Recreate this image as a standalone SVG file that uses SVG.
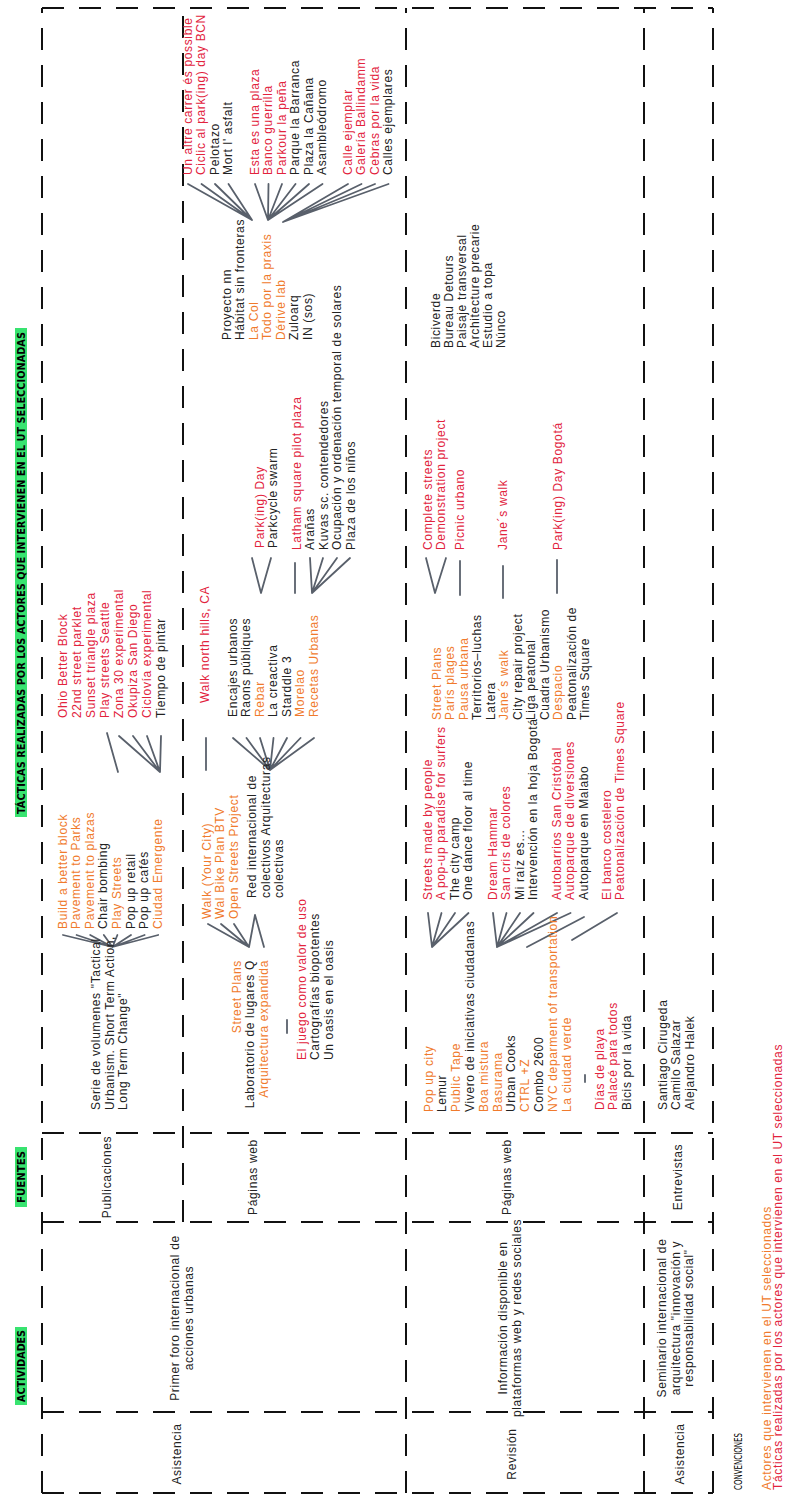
<svg xmlns="http://www.w3.org/2000/svg" width="785" height="1496" viewBox="0 0 785 1496">
<style>
.g{stroke:#111;stroke-width:2;stroke-dasharray:22 15;fill:none}
.t{font-family:"Liberation Sans",Arial,sans-serif;font-size:12px;letter-spacing:0.65px;fill:#222}
.o{fill:#F07A2C}
.r{fill:#E2233D}
.m{text-anchor:middle}
.e{text-anchor:end}
.c{stroke:#59606b;stroke-width:1.8;fill:none;stroke-linecap:round}
.h{fill:#38E370}
.ht{font-family:"DejaVu Sans Condensed","DejaVu Sans",sans-serif;font-weight:bold;font-size:11px;fill:#000;text-anchor:middle}
.cv{font-family:"DejaVu Sans Condensed","DejaVu Sans",sans-serif;font-size:11px;fill:#000}
</style>
<rect width="785" height="1496" fill="#fff"/>
<g transform="translate(0,1496) rotate(-90)">
<g id="grid">
<path class="g" d="M3 42H1488M3 713H1488M3 42V713M1488 42V713M274 183H1488M3 406H1488M3 644H1488M84 42V713M274 42V713M363 42V713"/>
</g>
<g id="headers">
<rect class="h" x="91" y="15" width="78" height="12"/>
<text class="ht" x="130" y="25" textLength="72" lengthAdjust="spacingAndGlyphs">ACTIVIDADES</text>
<rect class="h" x="289" y="15" width="60" height="12"/>
<text class="ht" x="319" y="25" textLength="52" lengthAdjust="spacingAndGlyphs">FUENTES</text>
<rect class="h" x="679" y="15" width="489" height="12"/>
<text class="ht" x="923" y="25" textLength="482" lengthAdjust="spacingAndGlyphs">TÁCTICAS REALIZADAS POR LOS ACTORES QUE INTERVIENEN EN EL UT SELECCIONADAS</text>
</g>
<g id="connectors">
<path class="c" d="M549 112.5L561 63M549 112.5L561 76.6M549 112.5L561 90.2M549 112.5L561 103.8M549 112.5L561 117.4M549 112.5L561 131M549 112.5L561 144.6M549 112.5L561 158.2"/>
<path class="c" d="M724 118L763 107"/>
<path class="c" d="M724 160L760 119M724 160L760 133M724 160L760 147M724 160L760 161"/>
<path class="c" d="M549 249L572 208M549 249L572 221M549 249L572 234M549 249L581 255M549 264L581 255"/>
<path class="c" d="M463 287H476"/>
<path class="c" d="M726 206H758"/>
<path class="c" d="M726 270L758 233M726 270L758 246.5M726 270L758 260M726 270L758 273.5M726 270L758 287M726 270L758 300.5M726 270L758 314"/>
<path class="c" d="M903 261L938 252M903 261L938 271"/>
<path class="c" d="M903 295H933"/>
<path class="c" d="M903 312L938 310M903 312L938 323M903 312L938 337M903 312L938 350"/>
<path class="c" d="M1276 252L1312 188M1276 252L1312 201.5M1276 252L1312 215M1276 252L1312 228.5"/>
<path class="c" d="M1276 268L1312 255M1276 268L1312 268.5M1276 268L1312 282M1276 268L1312 295.5M1276 268L1312 309M1276 268L1312 322.5"/>
<path class="c" d="M1274 283L1312 348M1274 283L1312 361.5M1274 283L1312 375M1274 283L1312 388.5"/>
<path class="c" d="M549 432L583 428M549 432L583 441.5M549 432L583 455M549 432L583 468.5"/>
<path class="c" d="M549 497L583 493M549 497L583 506.5M549 497L583 520M549 497L583 533.5M549 497L583 557M549 497L583 570.5"/>
<path class="c" d="M549 527L579 584"/>
<path class="c" d="M556 572L583 617"/>
<path class="c" d="M414 585H421"/>
<path class="c" d="M903 435L938 426M903 435L938 446"/>
<path class="c" d="M901 460H935"/>
<path class="c" d="M898 503H930"/>
<path class="c" d="M903 557H936"/>
</g>
<g id="row1-actividad">
<text class="t m" x="42" y="181">Asistencia</text>
<text class="t m" x="178" y="179">Primer foro internacional de</text>
<text class="t m" x="178" y="192.5">acciones urbanas</text>
</g>
<g id="row1-fuente-pub"><text class="t m" x="319" y="111">Publicaciones</text></g>
<g id="row1-fuente-web"><text class="t m" x="319" y="257">Páginas web</text></g>
<g id="n-serie">
<text class="t"><tspan x="386" y="100">Serie de volumenes "Tactical</tspan><tspan x="386" y="113.5">Urbanism. Short Term Action,</tspan><tspan x="386" y="127">Long Term Change"</tspan></text>
</g>
<g id="n-build">
<text class="t"><tspan class="o" x="567" y="66.5">Build a better block</tspan><tspan class="o" x="567" y="80.1">Pavement to Parks</tspan><tspan class="o" x="567" y="93.7">Pavement to plazas</tspan><tspan x="567" y="107.3">Chair bombing</tspan><tspan class="o" x="567" y="120.9">Play Streets</tspan><tspan x="567" y="134.5">Pop up retail</tspan><tspan x="567" y="148.1">Pop up cafés</tspan><tspan class="o" x="567" y="161.7">Ciudad Emergente</tspan></text>
</g>
<g id="n-ohio">
<text class="t r"><tspan x="778" y="66.5">Ohio Better Block</tspan><tspan x="778" y="80.5">22nd street parklet</tspan><tspan x="778" y="94.5">Sunset triangle plaza</tspan><tspan x="778" y="108.5">Play streets Seattle</tspan><tspan x="778" y="122.5">Zona 30 experimental</tspan><tspan x="778" y="136.5">Okupiza San Diego</tspan><tspan x="778" y="150.5">Ciclovía experimental</tspan><tspan x="778" y="164.5" style="fill:#222">Tiempo de pintar</tspan></text>
</g>
<g id="n-lab">
<text class="t e"><tspan class="o" x="536" y="240.5">Street Plans</tspan><tspan x="536" y="254">Laboratorio de lugares Q</tspan><tspan class="o" x="536" y="267.5">Arquitectura expandida</tspan></text>
</g>
<g id="n-juego">
<text class="t"><tspan class="r" x="436" y="305.5">El juego como valor de uso</tspan><tspan x="436" y="319">Cartografías biopotentes</tspan><tspan x="436" y="332.5">Un oasis en el oasis</tspan></text>
</g>
<g id="n-walk">
<text class="t o"><tspan x="577" y="210.5">Walk (Your City)</tspan><tspan x="577" y="224">Wal Bike Plan BTV</tspan><tspan x="577" y="237.5">Open Streets Project</tspan></text>
</g>
<g id="n-red">
<text class="t"><tspan x="598" y="256">Red internacional de</tspan><tspan x="598" y="269.5">colectivos Arquitecturas</tspan><tspan x="598" y="283">colectivas</tspan></text>
</g>
<g id="n-walknorth"><text class="t r" x="793" y="209">Walk north hills, CA</text></g>
<g id="n-encajes">
<text class="t"><tspan x="779" y="236.5">Encajes urbanos</tspan><tspan x="779" y="250">Raons públiques</tspan><tspan class="o" x="779" y="263.5">Rebar</tspan><tspan x="779" y="277">La creactiva</tspan><tspan x="779" y="290.5">Starddle 3</tspan><tspan class="o" x="779" y="304">Morelao</tspan><tspan class="o" x="779" y="317.5">Recetas Urbanas</tspan></text>
</g>
<g id="n-parking">
<text class="t"><tspan class="r" x="948" y="263.5">Park(ing) Day</tspan><tspan x="948" y="277">Parkcycle swarm</tspan></text>
</g>
<g id="n-latham">
<text class="t"><tspan class="r" x="946" y="300.5">Latham square pilot plaza</tspan><tspan x="946" y="314">Arañas</tspan><tspan x="946" y="327.5">Kuvas sc. contendedores</tspan><tspan x="946" y="341">Ocupación y ordenación temporal de solares</tspan><tspan x="946" y="354.5">Plaza de los niños</tspan></text>
</g>
<g id="n-proyecto">
<text class="t"><tspan x="1156" y="230.5">Proyecto nn</tspan><tspan x="1156" y="244">Hábitat sin fronteras</tspan><tspan class="o" x="1156" y="257.5">La Col</tspan><tspan class="o" x="1156" y="271">Todo por la praxis</tspan><tspan class="o" x="1156" y="284.5">Dérive lab</tspan><tspan x="1156" y="298">Zuloarq</tspan><tspan x="1156" y="311.5">IN (sos)</tspan></text>
</g>
<g id="n-altre">
<text class="t"><tspan class="r" x="1321" y="191.5">Un altre carrer és possible</tspan><tspan class="r" x="1321" y="205">Ciclic al park(ing) day BCN</tspan><tspan x="1321" y="218.5">Pelotazo</tspan><tspan x="1321" y="232">Mort l' asfalt</tspan></text>
</g>
<g id="n-plaza">
<text class="t"><tspan class="r" x="1321" y="258.5">Esta es una plaza</tspan><tspan class="r" x="1321" y="272">Banco guerrilla</tspan><tspan class="r" x="1321" y="285.5">Parkour la peña</tspan><tspan x="1321" y="299">Parque la Barranca</tspan><tspan x="1321" y="312.5">Plaza la Cañana</tspan><tspan x="1321" y="326">Asambleódromo</tspan></text>
</g>
<g id="n-calle">
<text class="t"><tspan class="r" x="1321" y="351.5">Calle ejemplar</tspan><tspan class="r" x="1321" y="365">Galería Ballindamm</tspan><tspan class="r" x="1321" y="378.5">Cebras por la vida</tspan><tspan x="1321" y="392">Calles ejemplares</tspan></text>
</g>
<g id="row2-actividad">
<text class="t m" x="42" y="516">Revisión</text>
<text class="t m" x="178" y="507">Información disponible en</text>
<text class="t m" x="178" y="520.5">plataformas web y redes sociales</text>
</g>
<g id="row2-fuente"><text class="t m" x="319" y="511">Páginas web</text></g>
<g id="n-popup">
<text class="t"><tspan class="o" x="384" y="432.5">Pop up city</tspan><tspan x="384" y="446.3">Lemur</tspan><tspan class="o" x="384" y="460.1">Public Tape</tspan><tspan x="384" y="473.9">Vivero de iniciativas ciudadanas</tspan><tspan class="o" x="384" y="487.7">Boa mistura</tspan><tspan class="o" x="384" y="501.5">Basurama</tspan><tspan x="384" y="515.3">Urban Cooks</tspan><tspan class="o" x="384" y="529.1">CTRL +Z</tspan><tspan x="384" y="542.9">Combo 2600</tspan><tspan class="o" x="384" y="556.7">NYC deparment of transportation</tspan><tspan class="o" x="384" y="570.5">La ciudad verde</tspan></text>
</g>
<g id="n-dias">
<text class="t"><tspan class="r" x="386" y="603.5">Días de playa</tspan><tspan class="r" x="386" y="617">Palacé para todos</tspan><tspan x="386" y="630.5">Bicis por la vida</tspan></text>
</g>
<g id="n-streets">
<text class="t"><tspan class="r" x="596" y="431.5">Streets made by people</tspan><tspan class="r" x="596" y="445">A pop-up paradise for surfers</tspan><tspan x="596" y="458.5">The city camp</tspan><tspan x="596" y="472">One dance floor al time</tspan></text>
</g>
<g id="n-dream">
<text class="t"><tspan class="r" x="596" y="496.5">Dream Hammar</tspan><tspan class="r" x="596" y="510">San cris de colores</tspan><tspan x="596" y="523.5">Mi raíz es...</tspan><tspan x="596" y="537">Intervención en la hoja Bogotá</tspan></text>
</g>
<g id="n-auto">
<text class="t"><tspan class="r" x="596" y="560.5">Autobarrios San Cristóbal</tspan><tspan class="r" x="596" y="574">Autoparque de diversiones</tspan><tspan x="596" y="587.5">Autoparque en Malabo</tspan></text>
</g>
<g id="n-banco">
<text class="t r"><tspan x="596" y="610.5">El banco costelero</tspan><tspan x="596" y="624">Peatonalización de Times Square</tspan></text>
</g>
<g id="n-streetplans2">
<text class="t"><tspan class="o" x="776" y="440.5">Street Plans</tspan><tspan class="o" x="776" y="454">París plages</tspan><tspan class="o" x="776" y="467.5">Pausa urbana</tspan><tspan x="776" y="481">Territorios–luchas</tspan><tspan x="776" y="494.5">Latera</tspan><tspan class="o" x="776" y="508">Jane´s walk</tspan><tspan x="776" y="521.5">City repair project</tspan><tspan x="776" y="535">Liga peatonal</tspan><tspan x="776" y="548.5">Cuadra Urbanismo</tspan><tspan class="o" x="776" y="562">Despacio</tspan><tspan x="776" y="575.5">Peatonalización de</tspan><tspan x="776" y="589">Times Square</tspan></text>
</g>
<g id="n-complete">
<text class="t r"><tspan x="946" y="431.5">Complete streets</tspan><tspan x="946" y="445">Demonstration project</tspan></text>
</g>
<g id="n-picnic"><text class="t r" x="946" y="463.5">Picnic urbano</text></g>
<g id="n-janes"><text class="t r" x="946" y="507">Jane´s walk</text></g>
<g id="n-parkbog"><text class="t r" x="946" y="561.5">Park(ing) Day Bogotá</text></g>
<g id="n-biciverde">
<text class="t"><tspan x="1148" y="439.5">Biciverde</tspan><tspan x="1148" y="452.5">Bureau Detours</tspan><tspan x="1148" y="465.5">Paisaje transversal</tspan><tspan x="1148" y="478.5">Architecture precarie</tspan><tspan x="1148" y="491.5">Estudio a topa</tspan><tspan x="1148" y="504.5">Núnco</tspan></text>
</g>
<g id="row3-actividad">
<text class="t m" x="42" y="684">Asistencia</text>
<text class="t m" x="178" y="666">Seminario internacional de</text>
<text class="t m" x="178" y="679.5">arquitectura "innovación y</text>
<text class="t m" x="178" y="693">responsabilidad social"</text>
</g>
<g id="row3-fuente"><text class="t m" x="319" y="682">Entrevistas</text></g>
<g id="n-entrevistados">
<text class="t"><tspan x="386" y="666.5">Santiago Cirugeda</tspan><tspan x="386" y="680">Camilo Salazar</tspan><tspan x="386" y="693.5">Alejandro Halek</tspan></text>
</g>
<g id="convenciones">
<text class="cv" x="6" y="742" textLength="57" lengthAdjust="spacingAndGlyphs">CONVENCIONES</text>
<text class="t o" x="6" y="771">Actores que intervienen en el UT seleccionados</text>
<text class="t r" x="6" y="782">Tácticas realizadas por los actores que intervienen en el UT seleccionadas</text>
</g>
</g>
</svg>
